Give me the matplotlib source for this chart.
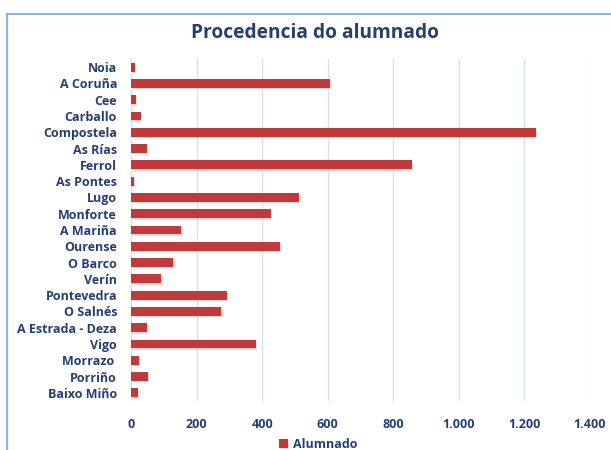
import matplotlib.pyplot as plt
import matplotlib.patheffects as pe
from matplotlib.patches import Rectangle

plt.switch_backend("agg")

# datos
centros = ["Noia", "A Coruña", "Cee", "Carballo", "Compostela", "As Rías",
           "Ferrol", "As Pontes", "Lugo", "Monforte", "A Mariña", "Ourense",
           "O Barco", "Verín", "Pontevedra", "O Salnés", "A Estrada - Deza",
           "Vigo", "Morrazo ", "Porriño", "Baixo Miño"]
alumnado = [12, 608, 15, 29, 1234, 48, 856, 8, 513, 426, 153, 455,
            129, 92, 293, 276, 50, 381, 24, 52, 20]
ticks_x = [0, 200, 400, 600, 800, 1000, 1200, 1400]
ticks_x_labels = ["0", "200", "400", "600", "800", "1.000", "1.200", "1.400"]

azul = "#243F73"
vermello = "#C0393B"

fig = plt.figure(figsize=(6.11, 4.5), dpi=100)
plt.rcParams["font.family"] = ["Open Sans", "DejaVu Sans"]

# marco do gráfico (cortado pola dereita e por abaixo)
fig.patches.append(Rectangle((7.5 / 611, -0.1), 1.2, (450 - 14) / 450 + 0.1,
                             transform=fig.transFigure, fill=False,
                             edgecolor="#8EB4E3", linewidth=1.5))

ax = fig.add_axes([131 / 611, 1 - 401 / 450, (590 - 131) / 611, (401 - 59) / 450])

y = list(range(len(centros)))
ax.barh(y, alumnado, height=0.55, color=vermello, label="Alumnado",
        path_effects=[pe.SimplePatchShadow(offset=(1, -1), shadow_rgbFace="#aaaaaa", alpha=0.4),
                      pe.Normal()], zorder=3)

ax.set_ylim(len(centros) - 0.5, -0.5)
ax.set_xlim(0, 1400)
ax.set_yticks(y)
ax.set_yticklabels(centros, fontsize=9, fontweight="bold", color=azul)
ax.set_xticks(ticks_x)
ax.set_xticklabels(ticks_x_labels, fontsize=9, fontweight="bold", color=azul)
ax.tick_params(length=0)
ax.tick_params(axis="y", pad=10)
ax.tick_params(axis="x", pad=12)
ax.grid(axis="x", color="#D5E0F0", linewidth=1, zorder=0)
for s in ax.spines.values():
    s.set_visible(False)

fig.text(315 / 611, 1 - 33 / 450, "Procedencia do alumnado", ha="center", va="center",
         fontsize=13.8, fontweight="bold", color=azul)

fig.legend(loc="center", bbox_to_anchor=(318 / 611, 1 - 444 / 450), frameon=False,
           prop={"size": 9, "weight": "bold"}, labelcolor=azul,
           handlelength=0.7, handleheight=0.7, handletextpad=0.4)

plt.savefig("out.png", dpi=100)
